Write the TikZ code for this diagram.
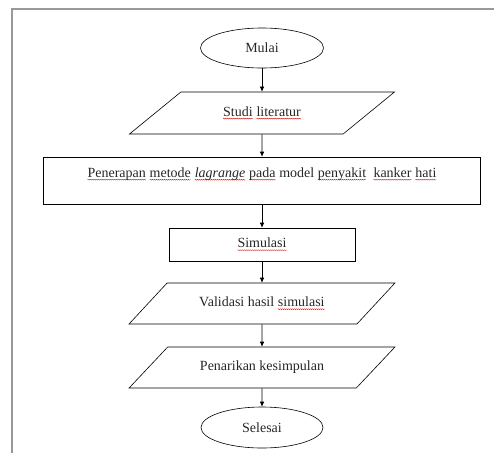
\documentclass[tikz,border=0pt]{standalone}
\usepackage{fontspec}
\setmainfont{Liberation Serif}
\usetikzlibrary{shapes.geometric,arrows.meta,decorations.pathmorphing}
\newcommand\sq[1]{\tikz[baseline=(sqw.base)]{\node[shape=rectangle,draw=none,fill=none,inner sep=0pt,outer sep=0pt,minimum width=0pt,minimum height=0pt,text height={},text depth={},anchor=base] (sqw) {#1};\draw[red!85!black,line width=0.35pt,decorate,decoration={snake,amplitude=0.45pt,segment length=2pt}] ([yshift=-2.2pt]sqw.base west) -- ([yshift=-2.2pt]sqw.base east);}}
\begin{document}
\begin{tikzpicture}[x=1pt,y=-1pt,
  every node/.style={font=\fontsize{14}{16}\selectfont, text=black!85},
  box/.style={draw, line width=0.6pt, rectangle, inner sep=3pt},
  term/.style={draw, line width=0.6pt, ellipse, inner sep=0pt},
  io/.style={draw, line width=0.6pt, trapezium, trapezium left angle=32.5, trapezium right angle=147.5, trapezium stretches=true, inner sep=2pt},
  arr/.style={-{Latex[length=5pt,width=4.5pt]}, line width=0.6pt}]
\useasboundingbox (0,0) rectangle (494,453);
\draw[gray!80, line width=1.3pt] (12,453) -- (12,9) -- (494,9);
\node[term, minimum width=123pt, minimum height=40pt] (mulai) at (262,48) {Mulai};
\node[io, minimum width=265pt, minimum height=42pt] (studi) at (262,113) {\sq{Studi} \sq{literatur}};
\node[box, minimum width=437pt, text height=17.5pt, text depth=23.5pt] (pen) at (262,180.5) {\sq{Penerapan} \sq{metode} \sq{\textit{lagrange}} \sq{pada} model \sq{penyakit}\hspace{7pt}\sq{kanker} \sq{hati}};
\node[box, minimum width=186pt, minimum height=33pt] (sim) at (262,244.5) {\sq{Simulasi}};
\node[io, minimum width=266pt, minimum height=41pt] (val) at (262,303.5) {Validasi hasil \sq{simulasi}};
\node[io, minimum width=266pt, minimum height=41pt] (tarik) at (262,367.5) {Penarikan kesimpulan};
\node[term, minimum width=122pt, minimum height=41pt] (selesai) at (262,427.5) {Selesai};
\draw[arr] (mulai) -- (studi);
\draw[arr] (studi) -- (pen);
\draw[arr] (pen) -- (sim);
\draw[arr] (sim) -- (val);
\draw[arr] (val) -- (tarik);
\draw[arr] (tarik) -- (selesai);
\end{tikzpicture}
\end{document}
